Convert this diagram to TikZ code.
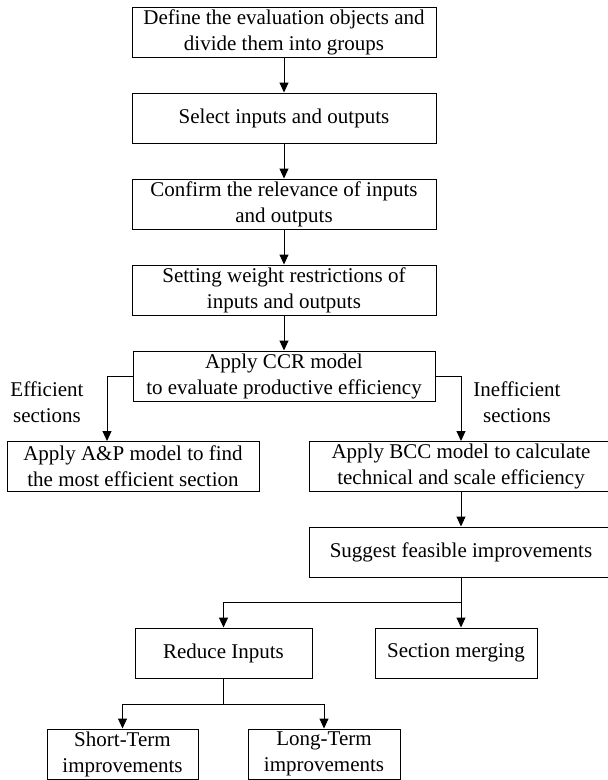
\documentclass[tikz,border=0pt]{standalone}
\usepackage{fontspec}
\setmainfont{Liberation Serif}
\usetikzlibrary{arrows.meta}
\begin{document}
\begin{tikzpicture}[x=1pt,y=-1pt,
  every node/.style={font=\fontsize{21}{26}\selectfont, inner sep=0pt},
  stepbox/.style={draw, line width=1pt, rectangle, align=center, minimum height=50pt},
  lbl/.style={align=center},
  arr/.style={line width=1pt, -{Triangle[length=10pt,width=9pt]}},
  ln/.style={line width=1pt}]
\useasboundingbox (0,0) rectangle (608,780);
\clip (0,0) rectangle (608,780);

% main column
\node[stepbox, minimum width=304pt] (b1) at (284,32) {Define the evaluation objects and\\divide them into groups};
\node[stepbox, minimum width=304pt] (b2) at (284,118) {Select inputs and outputs};
\node[stepbox, minimum width=304pt] (b3) at (284,204) {Confirm the relevance of inputs\\and outputs};
\node[stepbox, minimum width=304pt] (b4) at (284,290) {Setting weight restrictions of\\inputs and outputs};
\node[stepbox, minimum width=302pt] (b5) at (284,376) {Apply CCR model\\to evaluate productive efficiency};

% branches
\node[stepbox, minimum width=252pt] (b6) at (133,466.5) {Apply A\&P model to find\\the most efficient section};
\node[stepbox, minimum width=304pt] (b7) at (461,466.5) {Apply BCC model to calculate\\technical and scale efficiency};
\node[stepbox, minimum width=304pt] (b8) at (461,552) {Suggest feasible improvements};
\node[stepbox, minimum width=177pt] (b9) at (223.5,653) {Reduce Inputs};
\node[stepbox, minimum width=162pt] (b10) at (456,653) {Section merging};
\node[stepbox, minimum width=151pt] (b11) at (122.5,754) {Short-Term\\improvements};
\node[stepbox, minimum width=152pt] (b12) at (324,754) {Long-Term\\improvements};

% branch labels
\node[lbl] (effl) at (47,402) {Efficient\\sections};
\node[lbl] (ineffl) at (517,402) {Inefficient\\sections};

% helper coordinates
\coordinate (effx) at (107,0);
\coordinate (ineffx) at (461,0);
\coordinate (j1) at (461,602);
\coordinate (j2) at (223.5,704);

% connectors
\draw[arr] (b1.south) -- (b2.north);
\draw[arr] (b2.south) -- (b3.north);
\draw[arr] (b3.south) -- (b4.north);
\draw[arr] (b4.south) -- (b5.north);
\draw[arr] (b5.west) -| (effx |- b6.north);
\draw[arr] (b5.east) -| (ineffx |- b7.north);
\draw[arr] (b7.south) -- (b8.north);
\draw[arr] (b8.south) -- (b8.south |- b10.north);
\draw[arr] (j1) -| (b9.north);
\draw[ln] (b9.south) -- (j2);
\draw[arr] (j2) -| (b11.north);
\draw[arr] (j2) -| (b12.north);
\end{tikzpicture}
\end{document}
